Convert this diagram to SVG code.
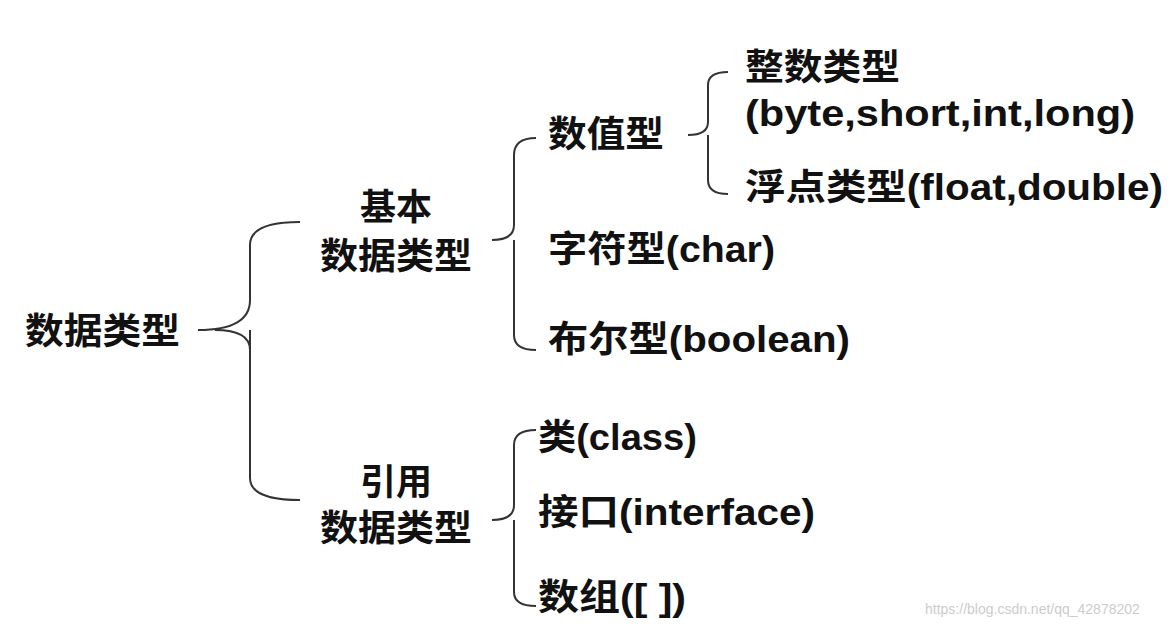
<svg xmlns="http://www.w3.org/2000/svg" width="1176" height="628" viewBox="0 0 1176 628">
<style>
text{font-family:"Liberation Sans","Noto Sans CJK SC",sans-serif;font-weight:bold;font-size:36px;fill:#111}
.b{fill:none;stroke:#333;stroke-width:2}
.w{font-size:14px;font-weight:normal;fill:#ccc}
</style>
<rect width="1176" height="628" fill="#fff"/>
<g id="connectors">
<path class="b" d="M198 330 Q250 330 250 300 L250 245 Q250 222 300 222 M250 330 L250 478 Q250 500 300 500 M215 330 Q250 330 250 350"/>
<path class="b" d="M492 240 Q514 240 514 225 L514 155 Q514 138 536 138 M514 240 L514 335 Q514 350 536 350"/>
<path class="b" d="M688 135 Q708 135 708 122 L708 85 Q708 72 728 72 M708 135 L708 180 Q708 194 728 194"/>
<path class="b" d="M492 520 Q514 520 514 505 L514 445 Q514 430 536 430 M514 520 L514 592 Q514 606 536 606"/>
</g>
<g id="root"><text x="25" y="344" textLength="155" lengthAdjust="spacingAndGlyphs">数据类型</text></g>
<g id="basic"><text x="396" y="220" text-anchor="middle">基本</text><text x="320" y="269" textLength="152" lengthAdjust="spacingAndGlyphs">数据类型</text></g>
<g id="numeric"><text x="548" y="147" textLength="116" lengthAdjust="spacingAndGlyphs">数值型</text></g>
<g id="integer"><text x="745" y="80" textLength="155" lengthAdjust="spacingAndGlyphs">整数类型</text><text x="745" y="126" textLength="390" lengthAdjust="spacingAndGlyphs">(byte,short,int,long)</text></g>
<g id="float"><text x="745" y="200" textLength="418" lengthAdjust="spacingAndGlyphs">浮点类型(float,double)</text></g>
<g id="char"><text x="548" y="262" textLength="227" lengthAdjust="spacingAndGlyphs">字符型(char)</text></g>
<g id="boolean"><text x="548" y="352" textLength="302" lengthAdjust="spacingAndGlyphs">布尔型(boolean)</text></g>
<g id="ref"><text x="396" y="495" text-anchor="middle">引用</text><text x="320" y="541" textLength="152" lengthAdjust="spacingAndGlyphs">数据类型</text></g>
<g id="class"><text x="538" y="450" textLength="159" lengthAdjust="spacingAndGlyphs">类(class)</text></g>
<g id="interface"><text x="538" y="525" textLength="277" lengthAdjust="spacingAndGlyphs">接口(interface)</text></g>
<g id="array"><text x="538" y="610" textLength="148" lengthAdjust="spacingAndGlyphs">数组([ ])</text></g>
<text class="w" x="925" y="614">https://blog.csdn.net/qq_42878202</text>
</svg>
